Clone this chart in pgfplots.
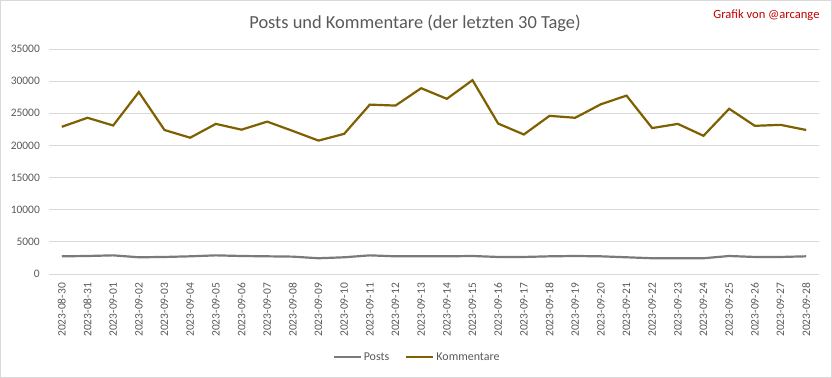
\documentclass[border=0pt]{standalone}
\usepackage{pgfplots}
\pgfplotsset{compat=1.18}
\usepackage{fontspec}
\setmainfont{Carlito}
\definecolor{komm}{HTML}{7F6000}
\definecolor{posts}{HTML}{7A7A7A}
\definecolor{gridc}{HTML}{D9D9D9}
\definecolor{txt}{HTML}{595959}
\definecolor{credit}{HTML}{C00000}
\begin{document}
\begin{tikzpicture}
\draw[gridc, line width=0.8bp] (0.4bp,0.4bp) rectangle (831.6bp,377.6bp);
\node[text=txt, font=\fontsize{18.5}{20}\selectfont] at (415bp,355bp) {Posts und Kommentare (der letzten 30 Tage)};
\node[text=credit, anchor=east, font=\fontsize{12.6}{14}\selectfont] at (823bp,363bp) {Grafik von @arcange};
\begin{axis}[
  at={(49bp,104bp)}, anchor=south west,
  scale only axis, width=770bp, height=225bp,
  xmin=-0.5, xmax=29.5, ymin=0, ymax=35000,
  ytick={0,5000,...,35000},
  xtick={0,...,29},
  xticklabels={2023-08-30,2023-08-31,2023-09-01,2023-09-02,2023-09-03,2023-09-04,2023-09-05,2023-09-06,2023-09-07,2023-09-08,2023-09-09,2023-09-10,2023-09-11,2023-09-12,2023-09-13,2023-09-14,2023-09-15,2023-09-16,2023-09-17,2023-09-18,2023-09-19,2023-09-20,2023-09-21,2023-09-22,2023-09-23,2023-09-24,2023-09-25,2023-09-26,2023-09-27,2023-09-28},
  xticklabel style={rotate=90, anchor=east, font=\fontsize{11.5}{13}\selectfont, text=txt, inner sep=0pt, xshift=-9bp},
  yticklabel style={font=\fontsize{11.5}{13}\selectfont, text=txt, inner sep=0pt, xshift=-9bp},
  /pgf/number format/assume math mode=true,
  /pgf/number format/1000 sep={},
  scaled y ticks=false,
  ymajorgrids, major grid style={gridc, line width=0.8bp},
  axis line style={draw=none}, tick style={draw=none},
  clip=false,
  legend style={at={(0.478,-0.369)}, anchor=center, draw=none, legend columns=2, font=\fontsize{12}{14}\selectfont, text=txt, /tikz/every even column/.append style={column sep=14bp}},
  legend image code/.code={\draw[#1] (0bp,0bp) -- (27bp,0bp);},
  legend cell align=left,
]
\addplot[posts, line width=2.2bp] coordinates {
(0,2750)(1,2800)(2,2900)(3,2600)(4,2650)(5,2750)(6,2900)(7,2800)(8,2750)(9,2700)
(10,2450)(11,2600)(12,2900)(13,2750)(14,2750)(15,2750)(16,2800)(17,2650)(18,2650)(19,2750)
(20,2800)(21,2750)(22,2600)(23,2450)(24,2450)(25,2450)(26,2800)(27,2650)(28,2650)(29,2750)};
\addlegendentry{Posts}
\addplot[komm, line width=2.2bp] coordinates {
(0,22900)(1,24300)(2,23100)(3,28300)(4,22400)(5,21200)(6,23350)(7,22450)(8,23700)(9,22250)
(10,20750)(11,21800)(12,26350)(13,26200)(14,28900)(15,27250)(16,30150)(17,23400)(18,21700)(19,24600)
(20,24300)(21,26400)(22,27750)(23,22700)(24,23350)(25,21500)(26,25700)(27,23050)(28,23200)(29,22400)};
\addlegendentry{Kommentare}
\end{axis}
\end{tikzpicture}
\end{document}
